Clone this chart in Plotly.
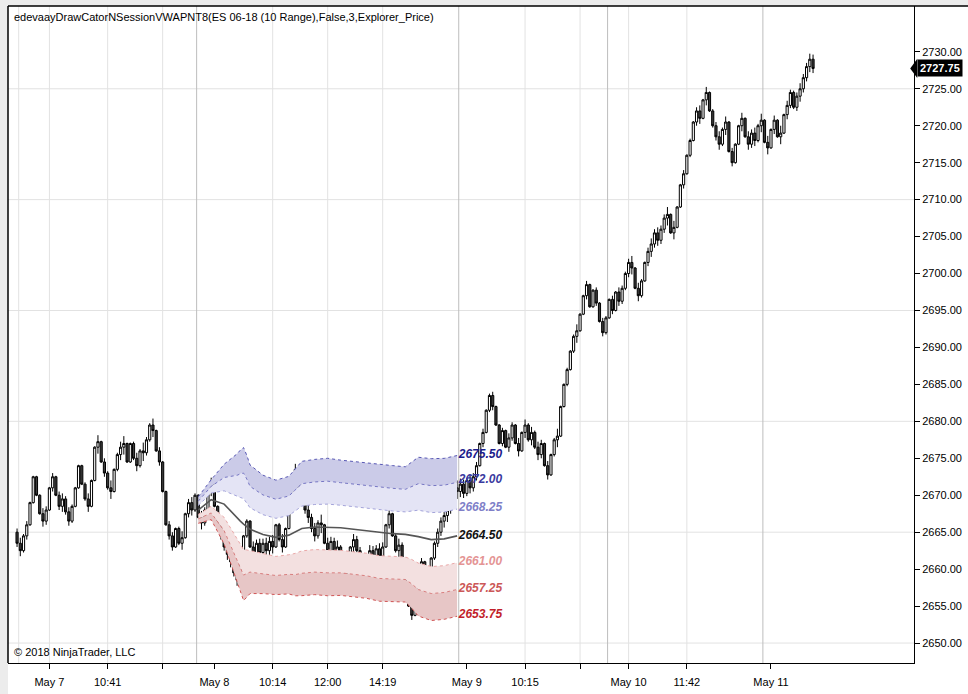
import plotly.graph_objects as go

# ES 06-18, 10 range bars, close of each bar (one list per session)
closes_may7 = [2663.5, 2662.5, 2664.5, 2666, 2669, 2672.5, 2670, 2667.5, 2666.5, 2668,
               2671, 2672.5, 2670, 2668.5, 2669.5, 2667.75, 2666.5, 2668.5, 2671, 2674,
               2671.5, 2669.5, 2668.5, 2672, 2676.5, 2677.25, 2674.5, 2673, 2671, 2670.5,
               2673.5, 2675.5, 2676.5, 2677, 2674.5, 2677, 2675, 2674, 2676, 2675.75,
               2677.5, 2679.5, 2678.75, 2676, 2674.5, 2670.5, 2666, 2664.5, 2663, 2665.5,
               2663.5, 2664.25, 2667.5, 2669, 2668, 2670]
closes_may8 = [2667, 2666.25, 2668, 2670.5, 2671.75, 2668.5, 2666, 2664.5, 2663, 2662,
               2661, 2659.5, 2658.5, 2661, 2664.5, 2666.5, 2663, 2662, 2663.5, 2662.25,
               2663.5, 2662.5, 2663.75, 2663, 2666, 2664, 2663, 2665.5, 2669.5, 2672.5,
               2673.5, 2671, 2669.5, 2668, 2667, 2665.5, 2664.5, 2666.25, 2666, 2663.5,
               2662.5, 2663.75, 2662.25, 2663, 2661, 2659.5, 2660.75, 2663, 2664, 2662.5,
               2661, 2660, 2661.5, 2662.5, 2661.25, 2662.75, 2661.75, 2663, 2666, 2667.5,
               2664.5, 2662.5, 2663.25, 2661.5, 2658, 2655, 2653.75, 2657, 2659.5, 2661,
               2658.5, 2659, 2661.5, 2663.5, 2665, 2666.5, 2667.25, 2668, 2669.5, 2671, 2670.5]
closes_may9 = [2671.5, 2670.25, 2672, 2671, 2672.5, 2674, 2677, 2678.5, 2681.5, 2683.5,
               2682, 2679.5, 2677, 2678.75, 2676.5, 2677.75, 2679.5, 2677, 2676, 2678.5,
               2679.5, 2677.5, 2678.5, 2676.5, 2675.5, 2677, 2674, 2672.75, 2675.5, 2677.5,
               2678, 2682, 2685, 2687, 2689.5, 2691.5, 2692.25, 2694.5, 2697, 2698.5,
               2695.5, 2697.75, 2696, 2693.5, 2692, 2694]
closes_may10 = [2696.5, 2695, 2697.5, 2696.25, 2698, 2700, 2701.5, 2700.75, 2698, 2697,
                2699, 2701.5, 2703, 2704, 2705.5, 2704.5, 2706, 2707.5, 2708, 2705.5,
                2706.25, 2709, 2712, 2713.5, 2716, 2718, 2720.5, 2722, 2721, 2723.5,
                2724.5, 2722, 2720, 2718.5, 2717.5, 2719.5, 2720.5, 2716.5, 2715, 2717.5,
                2720, 2721, 2718.5, 2717.5, 2719, 2718, 2720, 2720.75]
closes_may11 = [2717.75, 2717, 2719.5, 2720.75, 2718.5, 2719, 2721.5, 2722.75, 2724.5, 2722.5,
                2724, 2725, 2726.5, 2728, 2729, 2727.75]
first_open = 2665.0
bar_range = 2.5

# session VWAP with its standard deviation, sampled along the May 8 session
vwap_start = 56
vwap_offsets = [0, 4, 8, 12, 13, 14, 15, 16, 20, 24, 28, 30, 32, 36, 40, 44, 48, 52, 56,
                60, 64, 66, 68, 72, 76, 80]
vwap_values = [2668.0, 2669.4, 2668.8, 2666.9, 2666.5, 2666.1, 2665.8, 2665.4, 2664.7,
               2664.3, 2664.6, 2665.0, 2665.5, 2665.7, 2665.7, 2665.6, 2665.4, 2665.2,
               2664.9, 2664.8, 2664.7, 2664.6, 2664.4, 2664.0, 2664.1, 2664.5]
vwap_sd = [0.6, 0.9, 1.8, 2.9, 3.2, 3.45, 3.2, 2.9, 2.67, 2.58, 2.65, 2.87, 3.03, 3.05,
           3.1, 3.05, 3.05, 3.05, 3.08, 3.07, 3.05, 3.3, 3.58, 3.65, 3.63, 3.625]
band_labels = [2675.50, 2672.00, 2668.25, 2664.50, 2661.00, 2657.25, 2653.75]
band_label_colors = ['#1c1c8c', '#3a3aa0', '#7f7fc8', '#111111', '#e49494', '#cc5858', '#c21f2b']

# axes
tick_vals = [10, 28, 45, 61, 79, 96, 113, 139, 157, 174, 189, 207, 233]
tick_text = ['May 7', '10:41', '', 'May 8', '10:14', '12:00', '14:19', 'May 9', '10:15', '',
             'May 10', '11:42', 'May 11']
price_ticks = [2650, 2655, 2660, 2665, 2670, 2675, 2680, 2685, 2690, 2695, 2700, 2705,
               2710, 2715, 2720, 2725, 2730]
light_grid = [0.5, 10, 28, 45, 79, 96, 113, 157, 174, 189, 207]
session_lines = [55.5, 136.5, 182.5, 230.5]
price_grid = [2650, 2665, 2680, 2695, 2710, 2725]
last_price = 2727.75

closes = closes_may7 + closes_may8 + closes_may9 + closes_may10 + closes_may11
bars = list(range(len(closes)))
opens = [first_open] + closes[:-1]
highs, lows = [], []
for o, c in zip(opens, closes):
    extra = max(bar_range - abs(c - o), 0.25) / 2
    highs.append(max(o, c) + extra)
    lows.append(min(o, c) - extra)

vx = [vwap_start + k for k in vwap_offsets]

fig = go.Figure()

# bands: +1, +2 (fill), +3 (fill), -1, -2 (fill), -3 (fill)
band_specs = [
    (1, '#a4a4da', None),
    (2, '#7676c4', '#e4e4f5'),
    (3, '#5858b4', '#cbcbe8'),
    (-1, '#eaa8a8', None),
    (-2, '#d87e7e', '#f3e0e0'),
    (-3, '#d05454', '#e7c6c6'),
]
for k, lc, fc in band_specs:
    fig.add_trace(go.Scatter(
        x=vx, y=[v + k * s for v, s in zip(vwap_values, vwap_sd)],
        mode='lines', line=dict(color=lc, width=1, dash='dot'),
        fill='tonexty' if fc else 'none', fillcolor=fc,
        hoverinfo='skip', showlegend=False))

fig.add_trace(go.Scatter(x=vx, y=vwap_values, mode='lines',
                         line=dict(color='#555555', width=1.6),
                         hoverinfo='skip', showlegend=False))

# price labels at the end of the bands (under the bars)
fig.add_trace(go.Scatter(
    x=[vx[-1] + 0.5] * len(band_labels), y=band_labels,
    mode='text', text=['%.2f' % v for v in band_labels], textposition='middle right',
    textfont=dict(family='Liberation Sans, Arial', size=12, color=band_label_colors,
                  weight='bold', style='italic'),
    hoverinfo='skip', showlegend=False))

fig.add_trace(go.Candlestick(
    x=bars, open=opens, high=highs, low=lows, close=closes,
    increasing=dict(fillcolor='white', line=dict(color='black', width=1)),
    decreasing=dict(fillcolor='#3c3c3c', line=dict(color='black', width=1)),
    whiskerwidth=0, hoverinfo='skip', showlegend=False))

shapes = []
for g in price_grid:
    shapes.append(dict(type='line', xref='paper', yref='y', x0=0, x1=1, y0=g, y1=g,
                       line=dict(color='#e2e2e2', width=1), layer='below'))
for g in light_grid:
    shapes.append(dict(type='line', xref='x', yref='paper', x0=g, x1=g, y0=0, y1=1,
                       line=dict(color='#e2e2e2', width=1), layer='below'))
for g in session_lines:
    shapes.append(dict(type='line', xref='x', yref='paper', x0=g, x1=g, y0=0, y1=1,
                       line=dict(color='#bdbdbd', width=1), layer='below'))

# window chrome: gray strips and frame
shapes += [
    dict(type='rect', xref='paper', yref='paper', x0=-0.01, x1=0, y0=-0.05, y1=1.01,
         fillcolor='#ececec', line=dict(width=0), layer='below'),
    dict(type='rect', xref='paper', yref='paper', x0=-0.01, x1=1.06, y0=1, y1=1.01,
         fillcolor='#ececec', line=dict(width=0), layer='below'),
    dict(type='line', xref='paper', yref='paper', x0=0, x1=1.06, y0=1, y1=1,
         line=dict(color='black', width=1.5)),
    dict(type='line', xref='paper', yref='paper', x0=0, x1=0, y0=0, y1=1,
         line=dict(color='black', width=1.5)),
    # last price marker arrow
    dict(type='path', xref='paper', yref='y',
         path='M 0.9958 %f L 1.0036 %f L 1.0036 %f Z' % (last_price, last_price + 1.3, last_price - 1.3),
         fillcolor='black', line=dict(width=0)),
]

fig.update_layout(
    width=968, height=694,
    margin=dict(l=8, r=53, t=6, b=28),
    paper_bgcolor='white', plot_bgcolor='white',
    font=dict(family='Liberation Sans, Arial', size=11, color='black'),
    showlegend=False,
    boxgap=0.05,
    shapes=shapes,
    xaxis=dict(range=[-2.8, 277.2], tickvals=tick_vals, ticktext=tick_text,
               ticks='outside', ticklen=5, tickcolor='black', showgrid=False,
               showline=True, linecolor='black', linewidth=1, zeroline=False,
               rangeslider=dict(visible=False), ticklabelstandoff=4,
               tickfont=dict(size=11)),
    yaxis=dict(side='right', range=[2647.3, 2736.2], tickvals=price_ticks,
               tickformat='.2f', ticks='outside', ticklen=5, tickcolor='black',
               showgrid=False, showline=True, linecolor='black', linewidth=1,
               zeroline=False, tickfont=dict(size=11)),
    annotations=[
        dict(xref='paper', yref='paper', x=0.004, y=0.995, xanchor='left', yanchor='top',
             text='edevaayDrawCatorNSessionVWAPNT8(ES 06-18 (10 Range),False,3,Explorer_Price)',
             showarrow=False, font=dict(size=11, color='black')),
        dict(xref='paper', yref='paper', x=0.004, y=0.005, xanchor='left', yanchor='bottom',
             text='© 2018 NinjaTrader, LLC', showarrow=False,
             font=dict(size=11, color='black')),
        dict(xref='paper', yref='y', x=1.0036, y=last_price, xanchor='left', yanchor='middle',
             text='<b>%.2f</b>' % last_price, showarrow=False, bgcolor='black',
             font=dict(size=11, color='white'), borderpad=2),
    ],
)

# the page body has a default 8px margin; drop it so the figure fills the window
fig.write_html("out.html", config={'displayModeBar': False},
               post_script="document.body.style.margin='0';document.body.style.overflow='hidden';")
